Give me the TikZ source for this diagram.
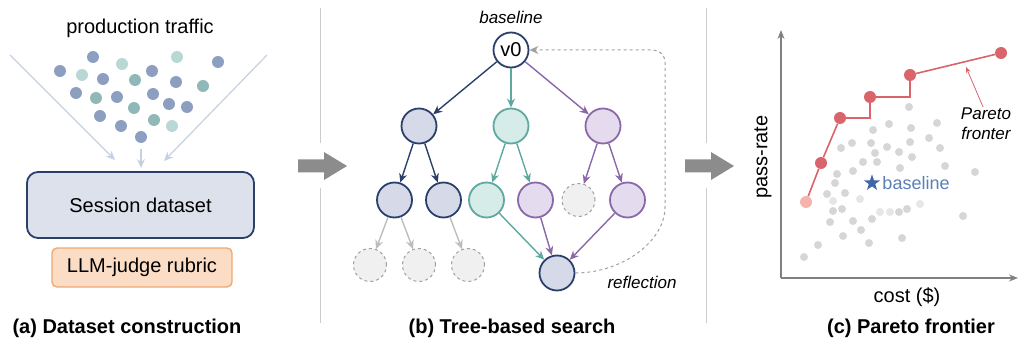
\documentclass[tikz,border=0pt]{standalone}
\usepackage{fontspec}
\setmainfont{Liberation Sans}
\usetikzlibrary{positioning,arrows.meta,shapes.geometric}

\definecolor{navy}{HTML}{2B3F6B}
\definecolor{navyfill}{HTML}{D6DAE8}
\definecolor{tealc}{HTML}{5FA8A0}
\definecolor{tealfill}{HTML}{D5ECE9}
\definecolor{purplec}{HTML}{8A67A8}
\definecolor{purplefill}{HTML}{E5DBEF}
\definecolor{ghostc}{HTML}{A0A0A0}
\definecolor{ghostfill}{HTML}{F0F0F0}
\definecolor{ghostedge}{HTML}{BDBDBD}
\definecolor{sepgrey}{HTML}{CCCCCC}
\definecolor{arrowgrey}{HTML}{8C8C8C}
\definecolor{flowblue}{HTML}{C5D0E0}
\definecolor{dotb}{HTML}{8C9FC1}
\definecolor{dott}{HTML}{8FB8B6}
\definecolor{dotl}{HTML}{B8D7D5}
\definecolor{boxfill}{HTML}{DDE1EC}
\definecolor{rubricfill}{HTML}{FBDDC6}
\definecolor{rubricdraw}{HTML}{F0A874}
\definecolor{paretored}{HTML}{D9646A}
\definecolor{paretopink}{HTML}{F4B4AC}
\definecolor{starblue}{HTML}{3F66A8}
\definecolor{baseblue}{HTML}{5A7FB8}
\definecolor{axisgrey}{HTML}{808080}
\definecolor{cloudgrey}{HTML}{D6D6D6}
\definecolor{cloudlight}{HTML}{E6E6E6}

\begin{document}
\begin{tikzpicture}[x=1pt, y=-1pt,
    level 1/.style={sibling distance=92pt, level distance=76pt},
    level 2/.style={sibling distance=49pt, level distance=74pt},
    level 3/.style={sibling distance=49pt, level distance=65pt},
    >={Stealth[length=9pt, width=8pt]},
    txt/.style={font=\fontsize{20}{24}\selectfont},
    itnote/.style={font=\fontsize{17}{20}\selectfont\itshape},
    paneltitle/.style={font=\fontsize{20}{24}\selectfont\bfseries},
    vnode/.style={circle, draw, line width=1.8pt, minimum size=35pt, inner sep=0pt},
    navynode/.style={vnode, draw=navy, fill=navyfill},
    tealnode/.style={vnode, draw=tealc, fill=tealfill},
    purplenode/.style={vnode, draw=purplec, fill=purplefill},
    ghost/.style={circle, draw=ghostc, fill=ghostfill, dashed, line width=1pt, minimum size=33pt, inner sep=0pt},
    navyedge/.style={edge from parent/.style={draw=navy, ->, line width=1.4pt}},
    tealedge/.style={edge from parent/.style={draw=tealc, ->, line width=1.4pt}},
    purpleedge/.style={edge from parent/.style={draw=purplec, ->, line width=1.4pt}},
    greyedge/.style={edge from parent/.style={draw=ghostedge, ->, line width=1.4pt}},
    sepline/.style={draw=sepgrey, line width=1pt},
    bigarrow/.style={fill=arrowgrey},
    flow/.style={draw=flowblue, ->, line width=1.2pt},
    axis/.style={draw=axisgrey, line width=1.2pt, -{Stealth[length=9pt, width=7pt]}},
    pdot/.style={circle, fill=paretored, minimum size=12pt, inner sep=0pt},
  ]
  \useasboundingbox (0,0) rectangle (1018,350);

  % separators and big arrows
  \foreach \sx in {320,706} {
    \draw[sepline] (\sx,8) -- (\sx,143);
    \draw[sepline] (\sx,188) -- (\sx,323);
  }
  \foreach \ax in {298,685}
    \fill[bigarrow] (\ax,159.5) -- ++(26,0) -- ++(0,-7.5) -- ++(23,14)
      -- ++(-23,14) -- ++(0,-7.5) -- ++(-26,0) -- cycle;

  % (a) dataset
  \node[txt] (traffic) at (140,28) {production traffic};
  \foreach \px/\py/\dc in {93/57/dotb, 122/64/dotl, 177/57/dotl, 218/62/dotb,
      60/71/dotb, 82/75/dotl, 103/79/dotb, 135/80/dott, 152/71/dotb, 176/82/dotb,
      203/86/dott, 76/93/dotb, 96/98/dott, 117/97/dotb, 153/94/dotb, 169/104/dotb,
      187/107/dotb, 134/108/dott, 100/116/dotb, 121/126/dotb, 154/120/dott,
      172/126/dotl, 141/137/dotb}
    \fill[\dc] (\px,\py) circle (6pt);
  \coordinate (la) at (10,55);   \coordinate (lb) at (115,160);
  \coordinate (ma) at (141,149); \coordinate (mb) at (141,168);
  \coordinate (ra) at (267,55);  \coordinate (rb) at (164,161);
  \draw[flow] (la) -- (lb);
  \draw[flow] (ma) -- (mb);
  \draw[flow] (ra) -- (rb);
  \node[txt, draw=navy, fill=boxfill, line width=1.8pt, rounded corners=11pt,
        minimum width=227pt, minimum height=66pt] (session) at (140.5,205) {Session dataset};
  \node[txt, draw=rubricdraw, fill=rubricfill, line width=1.4pt, rounded corners=5pt,
        minimum width=180pt, minimum height=39pt] (rubric) at (142,267.5) {LLM-judge rubric};
  \node[paneltitle] (ta) at (127,328) {(a) Dataset construction};

  % (b) tree search
  \node[itnote] (bl) at (511,17) {baseline};
  \node[vnode, draw=navy, fill=white, txt] (v0) at (511,50) {v0}
    child[navyedge] { node[navynode] (n1) {}
      child[navyedge] { node[navynode] (n11) {}
        child[greyedge] { node[ghost] (g1) {} }
        child[greyedge] { node[ghost] (g2) {} } }
      child[navyedge] { node[navynode] (n12) {}
        child[missing]
        child[greyedge] { node[ghost] (g3) {} } } }
    child[tealedge] { node[tealnode] (t1) {}
      child[tealedge] { node[tealnode] (t11) {} }
      child[tealedge] { node[purplenode] (t12) {} } }
    child[purpleedge] { node[purplenode] (p1) {}
      child[purpleedge] { node[ghost] (p11) {} }
      child[purpleedge] { node[purplenode] (p12) {} } };
  \node[navynode] (refl) at (557,273) {};
  \draw[draw=tealc, ->, line width=1.4pt] (t11) -- (refl);
  \draw[draw=purplec, ->, line width=1.4pt] (t12) -- (refl);
  \draw[draw=purplec, ->, line width=1.4pt] (p12) -- (refl);
  \draw[draw=ghostc, dashed, line width=1pt, rounded corners=12pt, ->]
    (refl.east) to[out=0, in=-90] (665,195) |- (v0.east);
  \node[itnote] (rl) at (642,282) {reflection};
  \node[paneltitle] (tb) at (512,328) {(b) Tree-based search};

  % (c) pareto frontier
  \coordinate (o) at (781,278);
  \coordinate (ytop) at (781,30);
  \coordinate (xend) at (1018,278);
  \draw[axis] (o) -- (ytop);
  \draw[axis] (o) -- (xend);
  \node[txt, rotate=90] (ylab) at (763,157) {pass-rate};
  \node[txt] (xlab) at (907,297) {cost (\$)};
  \foreach \px/\py in {909/107, 873/130, 889/124, 911/128, 937/123, 852/143,
      841/148, 871/143, 887/147, 910/142, 929/138, 899/152, 875/153, 940/148,
      912/157, 863/162, 877/162, 853/171, 837/174, 900/168, 945/166, 975/172,
      835/183, 827/194, 845/193, 833/211, 842/209, 899/212, 907/209, 830/222,
      853/221, 872/219, 963/216, 861/230, 843/236, 902/238, 869/243, 818/245, 804/257}
    \fill[cloudgrey] (\px,\py) circle (4pt);
  \foreach \px/\py in {833/201, 860/199, 920/204, 880/212, 890/212}
    \fill[cloudlight] (\px,\py) circle (4pt);
  \node[pdot, fill=paretopink] (f1) at (806,202) {};
  \node[pdot] (f2) at (821,163) {};
  \node[pdot] (f3) at (840,118) {};
  \node[pdot] (f4) at (870,97) {};
  \node[pdot] (f5) at (910,75) {};
  \node[pdot] (f6) at (1001,53) {};
  \draw[paretored, line width=1.6pt] (f1) -- (f2) -- (f3) -- (f3 -| f4) -- (f4)
    -- (f4 -| f5) -- (f5) -- (f6);
  \node[itnote, align=center, inner sep=1pt] (pl) at (986,124) {Pareto\\fronter};
  \coordinate (fr) at (966,67);
  \draw[paretored, line width=0.8pt, -{Stealth[length=6pt, width=5pt]}]
    ([xshift=-3pt]pl.north) -- (fr);
  \node[star, star points=5, star point ratio=2.5, fill=starblue, inner sep=0pt,
        minimum size=17pt] (bs) at (872,183) {};
  \node[right=2pt of bs, text=baseblue, font=\fontsize{18}{22}\selectfont] (bt) {baseline};
  \node[paneltitle] (tc) at (911,328) {(c) Pareto frontier};
\end{tikzpicture}
\end{document}
